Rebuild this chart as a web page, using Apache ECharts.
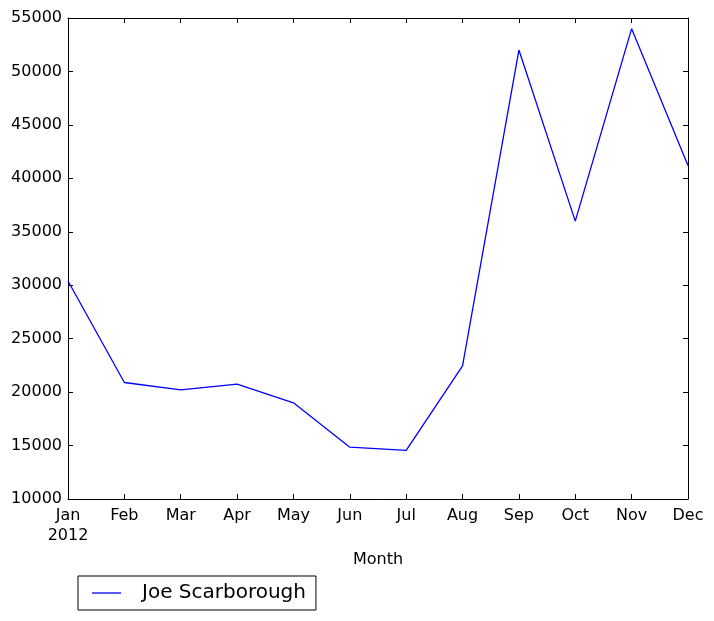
<!DOCTYPE html>
<html>
<head>
<meta charset="utf-8">
<script src="https://cdn.jsdelivr.net/npm/echarts@6/dist/echarts.min.js"></script>
<style>html,body{margin:0;padding:0;background:#fff}#c{width:714px;height:621px}</style>
</head>
<body>
<div id="c"></div>
<script>
const months = ['Jan','Feb','Mar','Apr','May','Jun','Jul','Aug','Sep','Oct','Nov','Dec'];
const monthLabels = ['Jan\n2012','Feb','Mar','Apr','May','Jun','Jul','Aug','Sep','Oct','Nov','Dec'];
const seriesName = 'Joe Scarborough';
const values = [30400, 20900, 20200, 20750, 19000, 14850, 14550, 22450, 52000, 36000, 54000, 41200];
const yMin = 10000, yMax = 55000, yStep = 5000;

const font = 'DejaVu Sans';
const chart = echarts.init(document.getElementById('c'), null, {renderer: 'canvas'});
const axisLine = {show: true, lineStyle: {color: '#000', width: 1}};
const tick = {show: true, inside: true, length: 5, lineStyle: {color: '#000', width: 1}};
chart.setOption({
  animation: false,
  backgroundColor: '#fff',
  grid: {left: 68, right: 26, top: 18, bottom: 122, show: false},
  legend: {
    left: 78, top: 576,
    data: [seriesName],
    icon: 'rect', itemWidth: 29, itemHeight: 1.3,
    padding: [7, 10, 7, 14],
    borderColor: '#000', borderWidth: 1, borderRadius: 0,
    textStyle: {fontFamily: font, fontSize: 20, color: '#000', padding: [0, 0, 0, 16]}
  },
  xAxis: [{
    type: 'category', data: monthLabels, boundaryGap: false, position: 'bottom',
    name: 'Month', nameLocation: 'middle', nameGap: 53,
    nameTextStyle: {fontFamily: font, fontSize: 16, color: '#000'},
    axisLine: axisLine, axisTick: Object.assign({alignWithLabel: true}, tick),
    axisLabel: {fontFamily: font, fontSize: 16, color: '#000', margin: 7, lineHeight: 20, interval: 0},
    splitLine: {show: false}
  }, {
    type: 'category', data: months, boundaryGap: false, position: 'top',
    axisLine: axisLine, axisTick: tick, axisLabel: {show: false}, splitLine: {show: false}
  }],
  yAxis: [{
    type: 'value', min: yMin, max: yMax, interval: yStep, position: 'left',
    axisLine: axisLine, axisTick: tick,
    axisLabel: {fontFamily: font, fontSize: 16, color: '#000', margin: 6, formatter: v => String(v)},
    splitLine: {show: false}
  }, {
    type: 'value', min: yMin, max: yMax, interval: yStep, position: 'right',
    axisLine: axisLine, axisTick: tick, axisLabel: {show: false}, splitLine: {show: false}
  }],
  series: [{
    name: seriesName, type: 'line', data: values, xAxisIndex: 0, yAxisIndex: 0,
    showSymbol: false, symbol: 'none',
    lineStyle: {color: '#0000ff', width: 1.3},
    itemStyle: {color: '#0000ff'}
  }]
});
</script>
</body>
</html>
